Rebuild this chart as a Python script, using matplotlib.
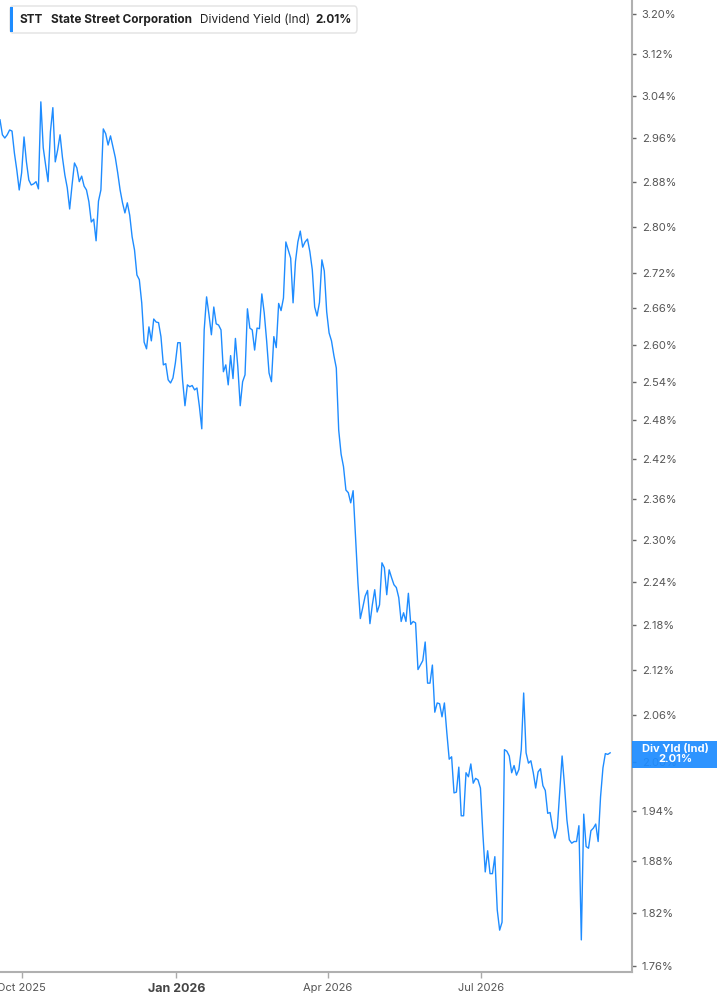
import numpy as np
import pandas as pd
import matplotlib.pyplot as plt
from matplotlib.patches import Rectangle, FancyBboxPatch
from matplotlib.ticker import FixedLocator, FixedFormatter, NullLocator

# daily dividend yield (%), one value per trading session
yield_pct = [
    2.994, 2.966, 2.960, 2.966, 2.975, 2.973, 2.932, 2.901, 2.865, 2.896,
    2.962, 2.916, 2.883, 2.874, 2.876, 2.880, 2.867, 3.028, 2.942, 2.910,
    2.880, 2.972, 3.017, 2.916, 2.938, 2.966, 2.924, 2.892, 2.869, 2.831,
    2.874, 2.914, 2.905, 2.880, 2.890, 2.872, 2.865, 2.844, 2.808, 2.813,
    2.775, 2.845, 2.865, 2.977, 2.968, 2.947, 2.964, 2.944, 2.924, 2.896,
    2.865, 2.842, 2.824, 2.842, 2.820, 2.782, 2.759, 2.716, 2.708, 2.669,
    2.604, 2.593, 2.629, 2.606, 2.642, 2.637, 2.636, 2.613, 2.567, 2.569,
    2.543, 2.538, 2.546, 2.570, 2.603, 2.603, 2.543, 2.502, 2.535, 2.532,
    2.534, 2.527, 2.530, 2.501, 2.466, 2.624, 2.679, 2.649, 2.616, 2.662,
    2.634, 2.632, 2.624, 2.556, 2.567, 2.535, 2.582, 2.545, 2.610, 2.564,
    2.502, 2.540, 2.551, 2.659, 2.627, 2.624, 2.591, 2.627, 2.626, 2.684,
    2.652, 2.606, 2.554, 2.540, 2.613, 2.595, 2.668, 2.656, 2.677, 2.773,
    2.759, 2.745, 2.669, 2.739, 2.773, 2.792, 2.764, 2.773, 2.778, 2.756,
    2.725, 2.662, 2.647, 2.670, 2.742, 2.723, 2.654, 2.619, 2.606, 2.582,
    2.562, 2.464, 2.427, 2.408, 2.373, 2.369, 2.354, 2.372, 2.305, 2.239,
    2.189, 2.204, 2.220, 2.228, 2.182, 2.208, 2.229, 2.198, 2.208, 2.267,
    2.260, 2.222, 2.257, 2.246, 2.236, 2.232, 2.218, 2.185, 2.197, 2.185,
    2.224, 2.181, 2.185, 2.183, 2.120, 2.126, 2.132, 2.157, 2.102, 2.102,
    2.126, 2.064, 2.076, 2.075, 2.058, 2.076, 2.038, 2.004, 2.007, 1.962,
    1.963, 1.994, 1.934, 1.934, 1.987, 1.982, 1.998, 1.974, 1.980, 1.978,
    1.968, 1.913, 1.867, 1.892, 1.865, 1.865, 1.885, 1.823, 1.800, 1.809,
    2.016, 2.014, 2.008, 1.987, 1.996, 1.984, 1.991, 2.016, 2.089, 2.012,
    1.999, 2.002, 1.987, 1.968, 1.988, 1.992, 1.971, 1.965, 1.937, 1.938,
    1.920, 1.907, 1.919, 1.963, 2.008, 1.971, 1.929, 1.905, 1.901, 1.903,
    1.903, 1.922, 1.789, 1.936, 1.897, 1.895, 1.916, 1.919, 1.924, 1.903,
    1.957, 1.993, 2.011, 2.010, 2.012,
]
first_date = "2025-09-18"
last_date = "2026-09-16"

y_ticks = [1.76, 1.82, 1.88, 1.94, 2.00, 2.06, 2.12, 2.18, 2.24, 2.30, 2.36, 2.42,
           2.48, 2.54, 2.60, 2.66, 2.72, 2.80, 2.88, 2.96, 3.04, 3.12, 3.20]
x_ticks = ["2025-10-01", "2026-01-01", "2026-04-01", "2026-07-01"]
x_labels = ["Oct 2025", "Jan 2026", "Apr 2026", "Jul 2026"]
last_value = 2.01

blue = "#1E8CFF"
plt.rcParams["font.family"] = ["Inter", "DejaVu Sans"]

# sessions are evenly spaced along the time axis
dates = pd.date_range(first_date, last_date, periods=len(yield_pct))

W, H = 717, 1005
fig = plt.figure(figsize=(W / 100, H / 100), dpi=100)
ax = fig.add_axes([0, 33 / H, 632 / W, 1 - 33 / H])
ax.plot(dates, yield_pct, color=blue, lw=1.0)

ax.set_yscale("log")
ax.set_ylim(1.7533, 3.228)
ax.set_xlim(pd.Timestamp("2025-09-18"), pd.Timestamp("2026-09-29"))

ax.yaxis.tick_right()
ax.yaxis.set_major_locator(FixedLocator(y_ticks))
ax.yaxis.set_minor_locator(NullLocator())
ax.yaxis.set_major_formatter(FixedFormatter([f"{v:.2f}%" for v in y_ticks]))
ax.tick_params(axis="y", which="major", length=3, width=1, color="#666666",
               labelcolor="#555555", labelsize=8, pad=4)

ax.set_xticks(pd.to_datetime(x_ticks))
ax.set_xticklabels(x_labels)
ax.tick_params(axis="x", length=4, width=1, color="#aaaaaa",
               labelcolor="#555555", labelsize=8, pad=4)
ax.get_xticklabels()[1].set_fontweight("bold")
ax.get_xticklabels()[1].set_fontsize(9)
ax.get_xticklabels()[1].set_color("#444444")

for side in ["top", "left"]:
    ax.spines[side].set_visible(False)
for side in ["right", "bottom"]:
    ax.spines[side].set_color("#b0b0b0")
    ax.spines[side].set_linewidth(1.5)

# last value tag on the right axis
y_pix = ax.get_yaxis_transform().transform((1.0, last_value))[1]
tag_h = 27
fig.patches.append(Rectangle((632 / W, (y_pix - tag_h / 2) / H), 85 / W, tag_h / H,
                             transform=fig.transFigure, facecolor=blue,
                             edgecolor="none", alpha=0.93, zorder=5))
fig.text(675 / W, y_pix / H, f"Div Yld (Ind)\n{last_value:.2f}%", ha="center",
         va="center", color="white", fontsize=8, fontweight="bold",
         linespacing=1.0, zorder=6)

# header box
fig.patches.append(FancyBboxPatch((10 / W, (H - 33) / H), 347 / W, 27 / H,
                                  boxstyle="round,pad=0,rounding_size=0.004",
                                  transform=fig.transFigure, facecolor="white",
                                  edgecolor="#e2e2e2", lw=1, zorder=5))
fig.patches.append(Rectangle((10 / W, (H - 32) / H), 3 / W, 25 / H,
                             transform=fig.transFigure, facecolor=blue,
                             edgecolor="none", zorder=6))
ty = (H - 20) / H
fig.text(20 / W, ty, "STT", ha="left", va="center", fontsize=8.5,
         fontweight="bold", color="#222222", zorder=7)
fig.text(51 / W, ty, "State Street Corporation", ha="left", va="center",
         fontsize=8.5, fontweight="bold", color="#222222", zorder=7)
fig.text(200 / W, ty, "Dividend Yield (Ind)", ha="left", va="center",
         fontsize=8.5, color="#222222", zorder=7)
fig.text(315 / W, ty, f"{last_value:.2f}%", ha="left", va="center",
         fontsize=8.5, fontweight="bold", color="#222222", zorder=7)

fig.savefig("out.png", dpi=100)
